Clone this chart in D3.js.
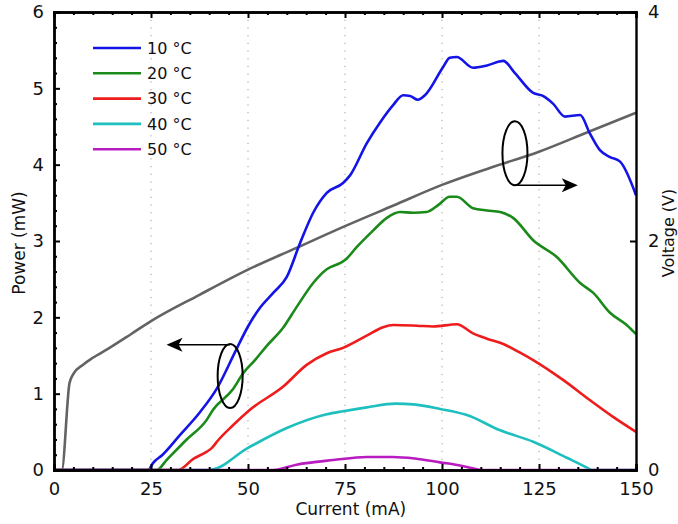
<!DOCTYPE html>
<html>
<head>
<meta charset="utf-8">
<script src="https://cdn.jsdelivr.net/npm/d3@7"></script>
<style>
    body { margin: 0; background: #fff; }
    svg { display: block; font-family: "DejaVu Sans", sans-serif; }
</style>
</head>
<body>
<div id="chart"></div>
<script>
// Current (mA) vs optical power (mW) per temperature
const temps = ["10 °C", "20 °C", "30 °C", "40 °C", "50 °C"];
const colors = ["#1414e6", "#1a8a1a", "#ee1c1c", "#1dbfbf", "#b81cc0"];

const power10 = [[0,0],[24.3,0],[25.5,0.09],[28,0.2],[32.5,0.46],[37.5,0.75],[42,1.07],[47,1.58],[50,1.88],[53,2.12],[56.5,2.32],[60,2.53],[63.4,2.97],[66.8,3.37],[70.3,3.63],[74.5,3.76],[76.3,3.86],[80.6,4.28],[84,4.55],[87.4,4.78],[90,4.91],[91.8,4.9],[93.8,4.85],[95.6,4.91],[100.3,5.28],[102,5.4],[103.8,5.41],[108,5.27],[111.6,5.3],[115.8,5.36],[118.8,5.2],[123.5,4.94],[126,4.9],[128.6,4.8],[131.7,4.63],[135.6,4.65],[138.1,4.41],[140.7,4.19],[143.3,4.1],[145.9,4.04],[150,3.6]];
const power20 = [[0,0],[26.5,0],[29,0.13],[34,0.39],[39.4,0.66],[41,0.79],[46,1.05],[48.8,1.27],[51.8,1.44],[54.9,1.63],[59,1.86],[62.6,2.14],[66.8,2.45],[70.3,2.63],[73.7,2.71],[75,2.75],[78,2.92],[82.3,3.14],[85.7,3.3],[89.2,3.38],[92.6,3.37],[96,3.38],[99,3.47],[102,3.58],[103.8,3.58],[108,3.43],[111.6,3.4],[115,3.38],[118.4,3.3],[123.5,3.01],[129.6,2.79],[135.6,2.45],[139,2.32],[143.3,2.06],[147.6,1.9],[150,1.78]];
const power30 = [[0,0],[32,0],[36,0.15],[39.4,0.24],[40.7,0.29],[42.3,0.39],[46,0.58],[50.5,0.79],[59,1.09],[65.2,1.38],[70.3,1.53],[74.5,1.6],[80.6,1.76],[84.8,1.87],[87.4,1.9],[93.6,1.89],[97.7,1.88],[103.8,1.91],[108,1.79],[111.6,1.72],[115.8,1.65],[120,1.54],[123.5,1.44],[131.2,1.18],[138,0.92],[144,0.7],[150,0.5]];
const power40 = [[0,0],[40,0],[50,0.29],[60,0.55],[70.3,0.73],[74.5,0.77],[80.6,0.82],[88,0.87],[92.6,0.86],[99.5,0.8],[106.4,0.72],[115,0.52],[123.5,0.37],[132.2,0.16],[137.4,0.03],[138.5,0],[150,0]];
const power50 = [[0,0],[56.5,0],[62.5,0.07],[72,0.13],[80.6,0.17],[87.4,0.17],[93,0.15],[99.5,0.1],[104.6,0.06],[109,0.01],[110,0],[150,0]];
const powerSeries = [power10, power20, power30, power40, power50];

// Current (mA) vs voltage (V)
const voltage = [[0,0],[2,0],[4,0.76],[5,0.84],[7.5,0.92],[10,0.98],[14,1.06],[20,1.19],[25,1.3],[37.5,1.53],[50,1.75],[62.5,1.94],[75,2.13],[87.5,2.31],[100,2.49],[112.5,2.64],[125,2.78],[137.5,2.95],[150,3.12]];

const xTicks = [0, 25, 50, 75, 100, 125, 150];
const yTicks = [0, 1, 2, 3, 4, 5, 6];
const vTicks = [0, 2, 4];

document.addEventListener("DOMContentLoaded", function() {
    const width = 678, height = 524;
    const margin = { top: 12, right: 42, bottom: 54, left: 54 };
    const w = width - margin.left - margin.right;
    const h = height - margin.top - margin.bottom;

    const svg = d3.select("#chart").append("svg")
        .attr("width", width)
        .attr("height", height)
        .append("g")
        .attr("transform", `translate(${margin.left},${margin.top})`);

    const x = d3.scaleLinear().domain([0, 150]).range([0, w]);
    const y = d3.scaleLinear().domain([0, 6]).range([h, 0]);
    const yV = d3.scaleLinear().domain([0, 4]).range([h, 0]);

    // dotted vertical grid
    svg.append("g").selectAll("line")
        .data(xTicks.slice(1, -1))
        .enter().append("line")
        .attr("x1", d => x(d)).attr("x2", d => x(d))
        .attr("y1", 0).attr("y2", h)
        .attr("stroke", "#9a9a9a")
        .attr("stroke-width", 1)
        .attr("stroke-dasharray", "1.2,6.5");

    // curves
    const line = d3.line()
        .x(d => x(d[0]))
        .y(d => y(d[1]))
        .curve(d3.curveMonotoneX);

    svg.append("path")
        .datum(voltage)
        .attr("fill", "none")
        .attr("stroke", "#636363")
        .attr("stroke-width", 2.6)
        .attr("d", d3.line().x(d => x(d[0])).y(d => yV(d[1])).curve(d3.curveMonotoneX));

    powerSeries.forEach((s, i) => {
        svg.append("path")
            .datum(s)
            .attr("fill", "none")
            .attr("stroke", colors[i])
            .attr("stroke-width", 2.6)
            .attr("stroke-linejoin", "round")
            .attr("d", line);
    });

    // annotations: ellipses with arrows pointing to the matching axis
    const notes = [
        { cx: 45.4, cy: 1.23, ay: 1.64, to: 29 },
        { cx: 118.8, cy: 4.15, ay: 3.73, to: 135 }
    ];
    notes.forEach(n => {
        svg.append("ellipse")
            .attr("cx", x(n.cx)).attr("cy", y(n.cy))
            .attr("rx", 12.5).attr("ry", 32)
            .attr("fill", "none")
            .attr("stroke", "#000")
            .attr("stroke-width", 2);
        const dir = n.to < n.cx ? 1 : -1;
        svg.append("line")
            .attr("x1", x(n.cx)).attr("x2", x(n.to) + dir * 8)
            .attr("y1", y(n.ay)).attr("y2", y(n.ay))
            .attr("stroke", "#000")
            .attr("stroke-width", 1.6);
        svg.append("path")
            .attr("d", `M${x(n.to)},${y(n.ay)} l${dir * 16},-7 l${-dir * 4},7 l${dir * 4},7 Z`)
            .attr("fill", "#000");
    });

    // axes, MATLAB style with inward ticks
    const minorX = d3.range(0, 151, 5).filter(d => d % 25 !== 0);
    const minorY = d3.range(1, 30).map(d => d / 5).filter(d => Math.abs(d - Math.round(d)) > 0.01);

    svg.append("g").attr("transform", `translate(0,${h})`)
        .call(d3.axisBottom(x).tickValues(minorX).tickSize(-3).tickFormat(""));
    svg.append("g")
        .call(d3.axisTop(x).tickValues(minorX).tickSize(-3).tickFormat(""));
    svg.append("g")
        .call(d3.axisLeft(y).tickValues(minorY).tickSize(-3).tickFormat(""));

    svg.append("g").attr("transform", `translate(0,${h})`)
        .call(d3.axisBottom(x).tickValues(xTicks).tickSize(-6).tickPadding(12).tickFormat(d3.format("d")));
    svg.append("g")
        .call(d3.axisTop(x).tickValues(xTicks).tickSize(-6).tickFormat(""));
    svg.append("g")
        .call(d3.axisLeft(y).tickValues(yTicks).tickSize(-6).tickPadding(10).tickFormat(d3.format("d")));
    svg.append("g").attr("transform", `translate(${w},0)`)
        .call(d3.axisRight(yV).tickValues(vTicks).tickSize(-6).tickPadding(12).tickFormat(d3.format("d")));

    svg.selectAll(".domain").attr("stroke", "#000").attr("stroke-width", 2.4);
    svg.selectAll(".tick line").attr("stroke", "#000").attr("stroke-width", 2);
    svg.selectAll(".tick text")
        .attr("font-family", "'DejaVu Sans', sans-serif")
        .attr("font-size", 18)
        .attr("fill", "#111");

    // axis titles
    svg.append("text")
        .attr("x", x(76.5)).attr("y", h + 45)
        .attr("text-anchor", "middle")
        .attr("font-size", 17)
        .attr("fill", "#111")
        .text("Current (mA)");
    svg.append("text")
        .attr("transform", `translate(${-29},${h / 2 + 2}) rotate(-90)`)
        .attr("text-anchor", "middle")
        .attr("font-size", 17)
        .attr("fill", "#111")
        .text("Power (mW)");
    svg.append("text")
        .attr("transform", `translate(${w + 38},${h / 2 - 8}) rotate(-90)`)
        .attr("text-anchor", "middle")
        .attr("font-size", 16)
        .attr("fill", "#111")
        .text("Voltage (V)");

    // legend
    const legend = svg.append("g").attr("transform", "translate(39,36)");
    temps.forEach((t, i) => {
        const g = legend.append("g").attr("transform", `translate(0,${i * 25.3})`);
        g.append("line")
            .attr("x1", 0).attr("x2", 48)
            .attr("stroke", colors[i])
            .attr("stroke-width", 2.6);
        g.append("text")
            .attr("x", 54).attr("dy", "0.36em")
            .attr("font-size", 16)
            .attr("fill", "#111")
            .text(t);
    });
});
</script>
</body>
</html>
